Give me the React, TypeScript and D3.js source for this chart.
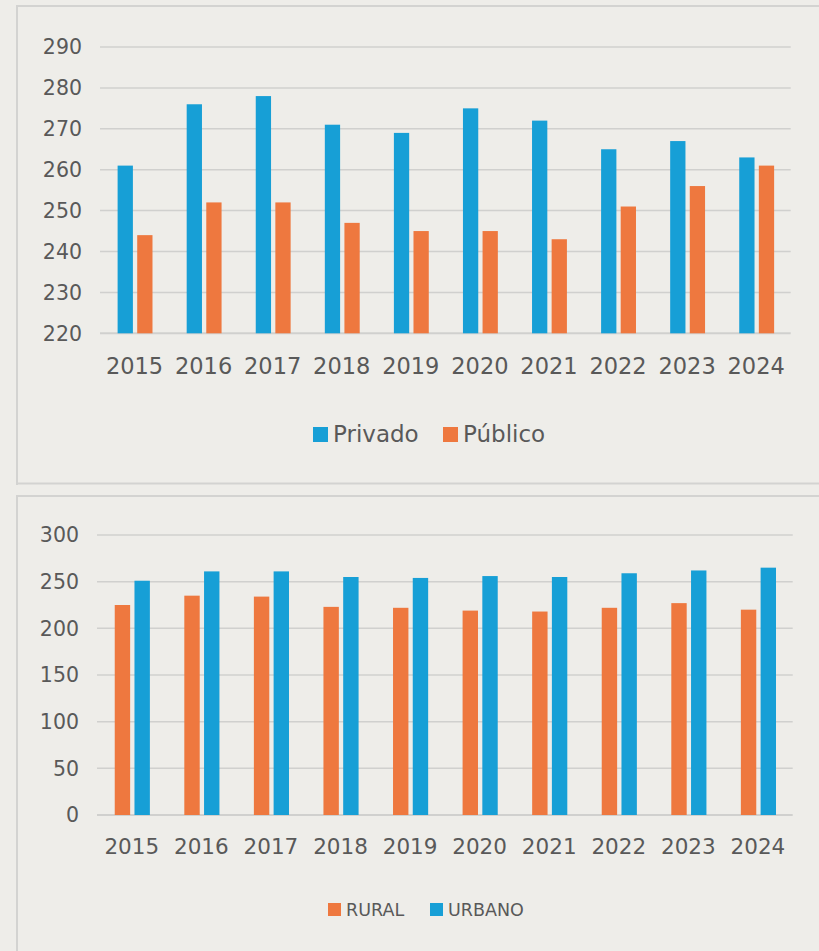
import React from "react";
import * as d3 from "d3";

const years = ["2015", "2016", "2017", "2018", "2019", "2020", "2021", "2022", "2023", "2024"];
const privado = [261, 276, 278, 271, 269, 275, 272, 265, 267, 263];
const publico = [244, 252, 252, 247, 245, 245, 243, 251, 256, 261];
const rural = [225, 235, 234, 223, 222, 219, 218, 222, 227, 220];
const urbano = [251, 261, 261, 255, 254, 256, 255, 259, 262, 265];
const topTicks = [220, 230, 240, 250, 260, 270, 280, 290];
const bottomTicks = [0, 50, 100, 150, 200, 250, 300];

const BLUE = "#179fd6";
const ORANGE = "#ee783f";
const BG = "#eeede9";
const BORDER = "#d3d3d1";
const GRID = "#d0d0ce";
const TEXT = "#595959";
const FONT = "'DejaVu Sans', Verdana, sans-serif";

type Series = { name: string; values: number[]; color: string };

function Chart(props: {
  x0: number; x1: number; yTop: number; yBottom: number;
  domain: [number, number]; ticks: number[]; series: Series[];
  yLabelX: number; yLabelSize: number; xLabelY: number; xLabelSize: number;
  legendY: number; legendItems: { name: string; color: string; x: number }[];
  legendSize: number; legendSquare: number;
}) {
  const { x0, x1, yTop, yBottom, domain, ticks, series } = props;
  const y = d3.scaleLinear().domain(domain).range([yBottom, yTop]);
  const x = d3.scaleBand<string>().domain(years).range([x0, x1]).padding(0);
  const step = x.step();
  const inner = d3
    .scaleBand<string>()
    .domain(series.map((s) => s.name))
    .range([step * 0.255, step * 0.76])
    .paddingInner(0.22);
  return (
    <g>
      {ticks.map((t, i) => (
        <g key={t}>
          <line x1={x0} x2={x1} y1={y(t)} y2={y(t)} stroke={GRID}
            strokeWidth={i === 0 ? 2 : 1.5} />
          <text x={props.yLabelX} y={y(t)} dy="0.36em" textAnchor="end"
            fontSize={props.yLabelSize} fill={TEXT} fontFamily={FONT}>{t}</text>
        </g>
      ))}
      {years.map((yr, i) => (
        <g key={yr}>
          {series.map((s) => (
            <rect key={s.name} x={(x(yr) as number) + (inner(s.name) as number)}
              y={y(s.values[i])} width={inner.bandwidth()}
              height={y(domain[0]) - y(s.values[i])} fill={s.color} />
          ))}
          <text x={(x(yr) as number) + step / 2} y={props.xLabelY} textAnchor="middle"
            fontSize={props.xLabelSize} fill={TEXT} fontFamily={FONT}>{yr}</text>
        </g>
      ))}
      {props.legendItems.map((l) => (
        <g key={l.name}>
          <rect x={l.x} y={props.legendY - props.legendSquare} width={props.legendSquare}
            height={props.legendSquare} fill={l.color} />
          <text x={l.x + props.legendSquare + 5} y={props.legendY} fontSize={props.legendSize}
            fill={TEXT} fontFamily={FONT}>{l.name}</text>
        </g>
      ))}
    </g>
  );
}

export default function App() {
  return (
    <svg width={819} height={951} style={{ position: "absolute", left: 0, top: 0, background: BG }}>
      <rect x={0} y={0} width={819} height={951} fill={BG} />
      {/* panel borders */}
      <path d="M17,485 V6 H819" fill="none" stroke={BORDER} strokeWidth={2} />
      <line x1={16} x2={819} y1={483.5} y2={483.5} stroke={BORDER} strokeWidth={2} />
      <path d="M17,951 V496 H819" fill="none" stroke={BORDER} strokeWidth={2} />
      <Chart
        x0={100} x1={790.7} yTop={47} yBottom={333.3} domain={[220, 290]} ticks={topTicks}
        series={[
          { name: "Privado", values: privado, color: BLUE },
          { name: "Público", values: publico, color: ORANGE },
        ]}
        yLabelX={82} yLabelSize={20.5} xLabelY={374} xLabelSize={22.5}
        legendY={442} legendSize={23} legendSquare={15}
        legendItems={[
          { name: "Privado", color: BLUE, x: 313 },
          { name: "Público", color: ORANGE, x: 443 },
        ]}
      />
      <Chart
        x0={97} x1={792.7} yTop={535} yBottom={815} domain={[0, 300]} ticks={bottomTicks}
        series={[
          { name: "RURAL", values: rural, color: ORANGE },
          { name: "URBANO", values: urbano, color: BLUE },
        ]}
        yLabelX={79} yLabelSize={20.5} xLabelY={854} xLabelSize={21.5}
        legendY={916} legendSize={17.5} legendSquare={13}
        legendItems={[
          { name: "RURAL", color: ORANGE, x: 328 },
          { name: "URBANO", color: BLUE, x: 430 },
        ]}
      />
    </svg>
  );
}
